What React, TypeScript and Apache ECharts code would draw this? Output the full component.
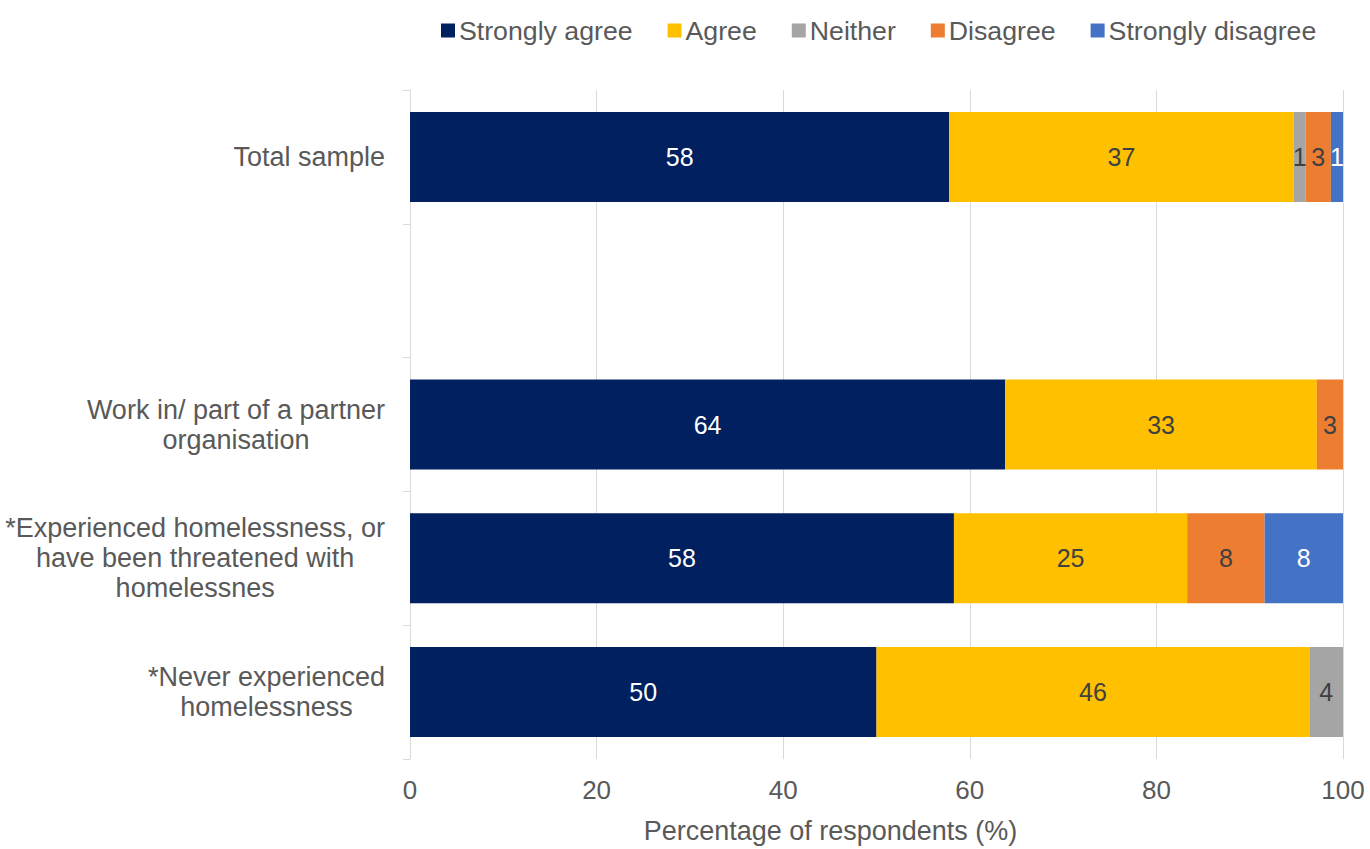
import React, { useEffect, useRef } from "react";
import * as echarts from "echarts";

const categories: string[] = [
  "Total sample",
  "",
  "Work in/ part of a partner\norganisation",
  "*Experienced homelessness, or\nhave been threatened with\nhomelessnes",
  "*Never experienced\nhomelessness",
];

const seriesNames: string[] = ["Strongly agree", "Agree", "Neither", "Disagree", "Strongly disagree"];

const stronglyAgree: (number | null)[] = [57.8, null, 63.8, 58.3, 50.0];
const agree: (number | null)[] = [36.9, null, 33.4, 25.0, 46.4];
const neither: (number | null)[] = [1.3, null, 0, 0, 3.6];
const disagree: (number | null)[] = [2.7, null, 2.8, 8.3, 0];
const stronglyDisagree: (number | null)[] = [1.3, null, 0, 8.4, 0];

const xTicks: number[] = [0, 20, 40, 60, 80, 100];

const colors = ["#002060", "#FFC000", "#A5A5A5", "#ED7D31", "#4472C4"];
const labelColors = ["#FFFFFF", "#404040", "#404040", "#404040", "#FFFFFF"];

const FONT = "'Liberation Sans', Arial, sans-serif";

export default function App() {
  const ref = useRef<HTMLDivElement>(null);
  useEffect(() => {
    document.body.style.margin = "0";
    if (!ref.current) return;
    const chart = echarts.init(ref.current, undefined, { renderer: "svg" });
    const allData = [stronglyAgree, agree, neither, disagree, stronglyDisagree];
    chart.setOption({
      animation: false,
      textStyle: { fontFamily: FONT },
      legend: {
        data: seriesNames,
        left: 436,
        top: 12,
        icon: "rect",
        itemWidth: 14,
        itemHeight: 14,
        itemGap: 35,
        textStyle: { fontSize: 26.7, color: "#595959", fontFamily: FONT, padding: [0, 0, 0, -1] },
      },
      grid: { left: 410, right: 27, top: 90, bottom: 84, containLabel: false },
      xAxis: {
        type: "value",
        min: xTicks[0],
        max: xTicks[xTicks.length - 1],
        interval: 20,
        axisLine: { show: false },
        axisTick: { show: false },
        splitLine: { show: true, lineStyle: { color: "#D9D9D9", width: 1 } },
        axisLabel: { fontSize: 26, color: "#595959", margin: 18, fontFamily: FONT },
        name: "Percentage of respondents (%)",
        nameLocation: "middle",
        nameGap: 58,
        nameTextStyle: { fontSize: 27, color: "#595959", fontFamily: FONT, padding: [0, 92, 0, 0] },
      },
      yAxis: {
        type: "category",
        data: categories,
        inverse: true,
        axisLine: { show: true, lineStyle: { color: "#D9D9D9", width: 1 } },
        axisTick: { show: true, length: 7, lineStyle: { color: "#D9D9D9", width: 1 } },
        splitLine: { show: false },
        axisLabel: {
          margin: 25,
          fontSize: 27,
          color: "#595959",
          fontFamily: FONT,
          lineHeight: 30,
          formatter: (v: string) =>
            v
              .split("\n")
              .map((l) => (l ? "{c|" + l + "}" : ""))
              .join("\n"),
          rich: {
            c: { align: "center", fontSize: 27, color: "#595959", fontFamily: FONT, lineHeight: 30 },
          },
        },
      },
      series: seriesNames.map((name, i) => ({
        name,
        type: "bar",
        stack: "total",
        barWidth: 90,
        data: allData[i],
        itemStyle: { color: colors[i] },
        label: {
          show: true,
          position: "inside",
          fontSize: 25,
          fontFamily: FONT,
          color: labelColors[i],
          formatter: (p: any) => (p.value && p.value > 0 ? String(Math.round(p.value)) : ""),
        },
      })),
    });
    return () => chart.dispose();
  }, []);
  return <div ref={ref} style={{ width: 1370, height: 849 }} />;
}
